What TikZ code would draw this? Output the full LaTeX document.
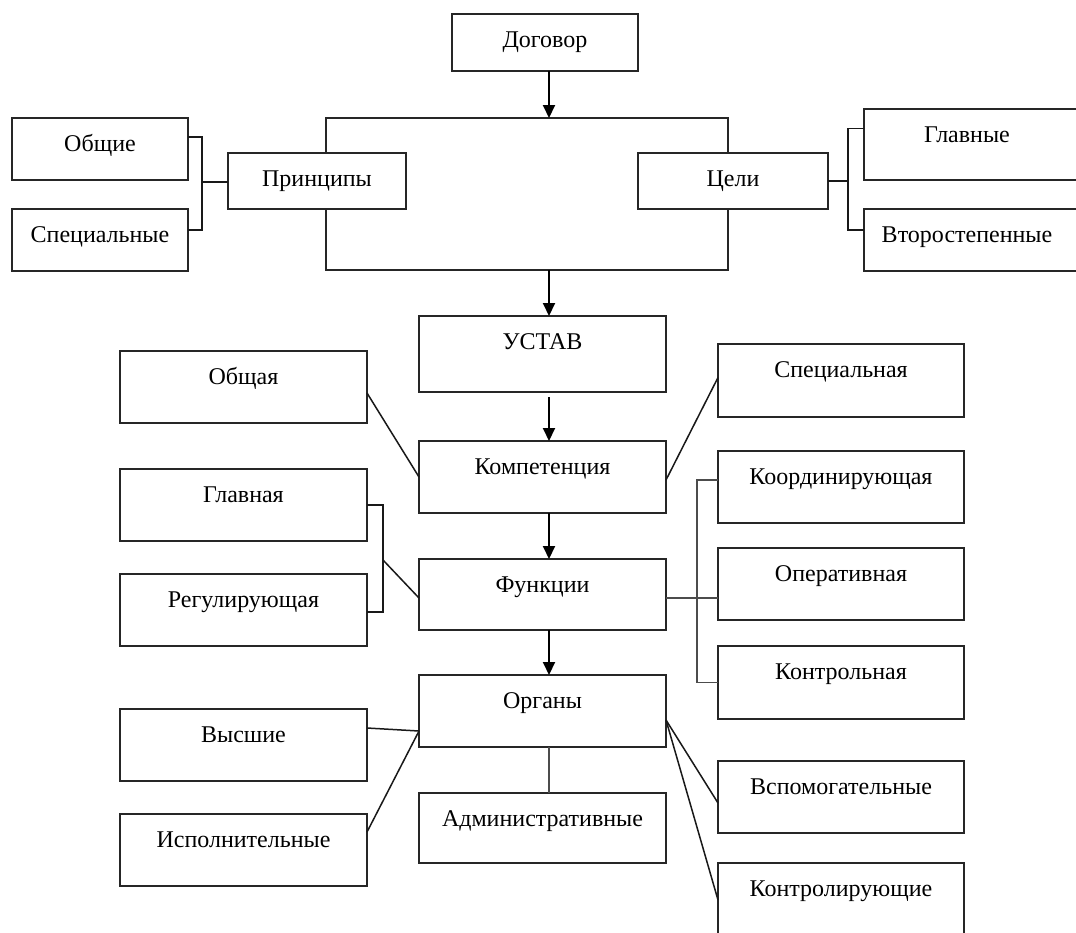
\documentclass[tikz,border=0pt]{standalone}
\usepackage{fontspec}
\setmainfont{Liberation Serif}
\usetikzlibrary{arrows.meta,calc}
\begin{document}
\begin{tikzpicture}[x=1pt,y=-1pt,
 box/.style={draw=black!85, line width=1.8pt, fill=white, inner sep=0pt, outer sep=0pt,
   text height=33pt, anchor=north west, font=\fontsize{24}{28}\selectfont},
 openbox/.style={box, draw=none},
 boxline/.style={draw=black!85, line width=1.8pt},
 arr/.style={line width=2pt, draw=black, -{Triangle[length=13pt,width=12pt]}},
 conn/.style={line width=1.5pt, draw=black!90},
 thinconn/.style={line width=1.1pt, draw=black!70}]
\clip (0,0) rectangle (1076,932);
\fill[white] (0,0) rectangle (1076,932);
% frame
\node[draw=black!85, line width=1.8pt, inner sep=0pt, outer sep=0pt, minimum width=402pt, minimum height=152pt, anchor=north west] (frame) at (326,118) {};
% top
\node[box, minimum width=186pt, text depth=24pt] (dog) at (452,14) {Договор};
\node[box, minimum width=176pt, text depth=29pt] (obsh) at (12,118) {Общие};
\node[box, minimum width=176pt, text depth=29pt] (spec) at (12,209) {Специальные};
\node[box, minimum width=178pt, text depth=23pt] (princ) at (228,153) {Принципы};
\node[box, minimum width=190pt, text depth=23pt] (celi) at (638,153) {Цели};
\node[openbox, minimum width=206pt, text depth=38pt] (glav) at (864,109) {Главные};
\node[openbox, minimum width=206pt, text depth=29pt] (vtor) at (864,209) {Второстепенные};
\draw[boxline] ([xshift=30pt]glav.north east) -- (glav.north west) -- (glav.south west) -- ([xshift=30pt]glav.south east);
\draw[boxline] ([xshift=30pt]vtor.north east) -- (vtor.north west) -- (vtor.south west) -- ([xshift=30pt]vtor.south east);
% centre column
\node[box, minimum width=247pt, text depth=43pt] (ustav) at (419,316) {УСТАВ};
\node[box, minimum width=247pt, text depth=39pt] (komp) at (419,441) {Компетенция};
\node[box, minimum width=247pt, text depth=38pt] (func) at (419,559) {Функции};
\node[box, minimum width=247pt, text depth=39pt] (org) at (419,675) {Органы};
\node[box, minimum width=247pt, text depth=37pt] (adm) at (419,793) {Административные};
% left column
\node[box, minimum width=247pt, text depth=39pt] (obshaya) at (120,351) {Общая};
\node[box, minimum width=247pt, text depth=39pt] (glavnaya) at (120,469) {Главная};
\node[box, minimum width=247pt, text depth=39pt] (regul) at (120,574) {Регулирующая};
\node[box, minimum width=247pt, text depth=39pt] (vysh) at (120,709) {Высшие};
\node[box, minimum width=247pt, text depth=39pt] (ispoln) at (120,814) {Исполнительные};
% right column
\node[box, minimum width=246pt, text depth=40pt] (specn) at (718,344) {Специальная};
\node[box, minimum width=246pt, text depth=39pt] (koord) at (718,451) {Координирующая};
\node[box, minimum width=246pt, text depth=39pt] (oper) at (718,548) {Оперативная};
\node[box, minimum width=246pt, text depth=40pt] (kontr) at (718,646) {Контрольная};
\node[box, minimum width=246pt, text depth=39pt] (vspom) at (718,761) {Вспомогательные};
\node[box, minimum width=246pt, text depth=57pt] (kontrol) at (718,863) {Контролирующие};
% arrows
\coordinate (ax) at (549,0);
\draw[arr] (dog.south -| ax) -- (frame.north -| ax);
\draw[arr] (frame.south -| ax) -- (ustav.north -| ax);
\draw[arr, shorten <=5pt] (ustav.south -| ax) -- (komp.north -| ax);
\draw[arr] (komp.south -| ax) -- (func.north -| ax);
\draw[arr] (func.south -| ax) -- (org.north -| ax);
% brackets top
\coordinate (bL) at (202,182);
\draw[conn] ([yshift=12pt]obsh.east) -| (bL) |- ([yshift=10pt]spec.east);
\draw[conn] (bL) -- (princ.west |- bL);
\coordinate (bR) at (848,181);
\draw[conn] (celi.east) -- (bR);
\draw[conn] ([yshift=16pt]glav.west) -| (bR) |- ([yshift=10pt]vtor.west);
% competence
\draw[conn] ([yshift=-6pt]obshaya.east) -- (komp.west);
\draw[conn] ([yshift=-3pt]komp.east) -- ([yshift=3pt]specn.west);
% functions
\coordinate (bG) at (383,560);
\draw[conn] (glavnaya.east) -| (bG) |- ([yshift=-2pt]regul.east);
\draw[conn] (bG) -- ([yshift=-3.5pt]func.west);
\coordinate (fR) at ([yshift=-3.5pt]func.east);
\draw[thinconn] (fR) -- (fR -| oper.west);
\coordinate (bK) at (697,580);
\draw[thinconn] ([yshift=7pt]koord.west) -| (bK) |- (kontr.west);
% organs
\coordinate (oL) at ($(org.west)+(0,20)$);
\draw[conn] ([yshift=17pt]vysh.east) -- (oL);
\draw[conn] ([yshift=18pt]ispoln.east) -- (oL);
\draw[thinconn] (org.south -| ax) -- (adm.north -| ax);
\coordinate (oR) at ($(org.east)+(0,9)$);
\draw[conn] (oR) -- ([yshift=-6pt]vspom.west);
\draw[conn] (oR) -- ([yshift=8pt]kontrol.west);
\end{tikzpicture}
\end{document}
